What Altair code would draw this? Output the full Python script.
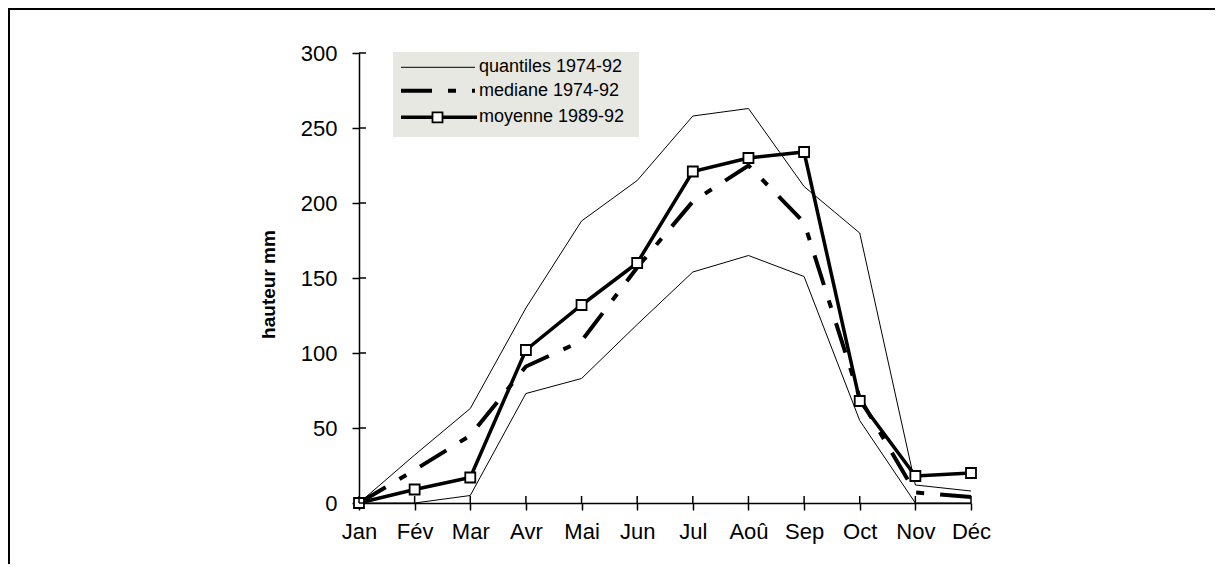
import altair as alt
import pandas as pd

# ---- data ----
months = ["Jan", "Fév", "Mar", "Avr", "Mai", "Jun", "Jul", "Aoû", "Sep", "Oct", "Nov", "Déc"]
quantile_high = [0, 32, 63, 130, 188, 215, 258, 263, 211, 180, 12, 8]
quantile_low = [0, 0, 5, 73, 83, 119, 154, 165, 151, 55, 0, 0]
mediane = [0, 22, 45, 91, 108, 157, 201, 225, 187, 70, 7, 4]
moyenne = [0, 9, 17, 102, 132, 160, 221, 230, 234, 68, 18, 20]
y_ticks = [0, 50, 100, 150, 200, 250, 300]
legend_labels = ["quantiles 1974-92", "mediane 1974-92", "moyenne 1989-92"]
y_title = "hauteur mm"

W, H = 612, 450
PAD_L, PAD_T, PAD_R, PAD_B = 351, 45, 244, 61
FONT = "Liberation Sans"
DASH = [31, 16, 8, 16]

rows = []
for name, vals in [("qh", quantile_high), ("ql", quantile_low), ("med", mediane), ("moy", moyenne)]:
    for m, v in zip(months, vals):
        rows.append({"mois": m, "serie": name, "valeur": v})
df = pd.DataFrame(rows)

x_scale = alt.Scale(type="point", padding=0, domain=months)
y_scale = alt.Scale(domain=[0, 300], nice=False, zero=True)
x_axis = alt.Axis(title=None, labelPadding=11, labelAngle=0)
y_axis = alt.Axis(title=y_title, values=y_ticks, labelPadding=15,
                  titleAngle=270, titleBaseline="alphabetic", titleAlign="center",
                  titleX=-85, titleY=231, titleFontWeight="bold", titleFontSize=19)

X = alt.X("mois:N", sort=months, scale=x_scale, axis=x_axis)
Y = alt.Y("valeur:Q", scale=y_scale, axis=y_axis)

base = alt.Chart(df).encode(x=X, y=Y)

q_high_line = base.transform_filter(alt.datum.serie == "qh").mark_line(color="black", strokeWidth=1)
q_low_line = base.transform_filter(alt.datum.serie == "ql").mark_line(color="black", strokeWidth=1)
med_line = base.transform_filter(alt.datum.serie == "med").mark_line(
    color="black", strokeWidth=4, strokeDash=DASH, strokeCap="butt")
moy_line = base.transform_filter(alt.datum.serie == "moy").mark_line(color="black", strokeWidth=3.5)
moy_pts = base.transform_filter(alt.datum.serie == "moy").mark_point(
    shape="square", size=100, filled=True, fill="white", stroke="black", strokeWidth=1.8, opacity=1)

# inner halves of the crossing tick marks
ytick_df = pd.DataFrame({"valeur": y_ticks})
ytick_in = alt.Chart(ytick_df).mark_rule(color="black", strokeWidth=1.5).encode(
    y=alt.Y("valeur:Q", scale=y_scale, axis=y_axis), x=alt.value(0), x2=alt.value(7))
xtick_df = pd.DataFrame({"mois": months})
xtick_in = alt.Chart(xtick_df).mark_rule(color="black", strokeWidth=1.5).encode(
    x=X, y=alt.value(H - 7), y2=alt.value(H))

one = pd.DataFrame({"a": [0]})

# outer frame: top and left edges only, kept inside the drawing
frame_top = alt.Chart(one).mark_rule(color="black", strokeWidth=2).encode(
    x=alt.value(-PAD_L), x2=alt.value(W + PAD_R), y=alt.value(-PAD_T + 1))
frame_left = alt.Chart(one).mark_rule(color="black", strokeWidth=2).encode(
    x=alt.value(-PAD_L + 1), y=alt.value(-PAD_T), y2=alt.value(H + PAD_B))

# legend
leg_bg = alt.Chart(one).mark_rect(color="#e8e8e2").encode(
    x=alt.value(34), x2=alt.value(280), y=alt.value(-1), y2=alt.value(84))
row_y = [14.3, 37.7, 64.3]
leg_q = alt.Chart(one).mark_rule(color="black", strokeWidth=1).encode(
    x=alt.value(42), x2=alt.value(116), y=alt.value(row_y[0]))
leg_med = alt.Chart(one).mark_rule(color="black", strokeWidth=4, strokeDash=DASH, strokeCap="butt").encode(
    x=alt.value(42), x2=alt.value(116), y=alt.value(row_y[1]))
leg_moy = alt.Chart(one).mark_rule(color="black", strokeWidth=3.5).encode(
    x=alt.value(42), x2=alt.value(118), y=alt.value(row_y[2]))
leg_pt = alt.Chart(one).mark_point(shape="square", size=100, filled=True, fill="white",
                                   stroke="black", strokeWidth=1.8, opacity=1).encode(
    x=alt.value(78.5), y=alt.value(row_y[2]))
leg_txt = [
    alt.Chart(one).mark_text(align="left", baseline="middle", font=FONT, fontSize=18, color="black").encode(
        x=alt.value(120), y=alt.value(ry), text=alt.value(lab))
    for lab, ry in zip(legend_labels, row_y)
]

chart = alt.layer(
    frame_top, frame_left, q_high_line, q_low_line, med_line, moy_line, moy_pts, ytick_in, xtick_in,
    leg_bg, leg_q, leg_med, leg_moy, leg_pt, *leg_txt
).properties(
    width=W, height=H,
    padding={"left": PAD_L, "top": PAD_T, "right": PAD_R, "bottom": PAD_B},
    autosize=alt.AutoSizeParams(type="none"),
    background="white",
).configure_view(strokeWidth=0).configure_axis(
    labelFont=FONT, titleFont=FONT, labelFontSize=22, labelColor="black", titleColor="black",
    domainColor="black", tickColor="black", domainWidth=1.5, tickWidth=1.5, tickSize=7, grid=False,
)

chart.save("out.html", embed_options={"renderer": "svg", "actions": False})
